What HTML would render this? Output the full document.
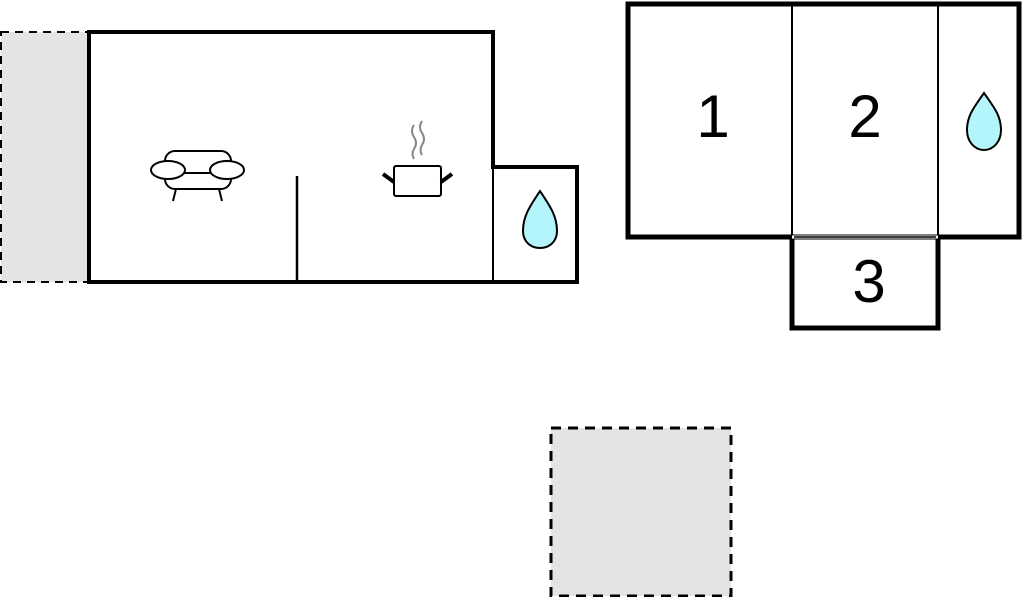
<!DOCTYPE html>
<html><head><style>html,body{margin:0;padding:0;background:#fff;width:1024px;height:597px;overflow:hidden}</style></head>
<body>
<svg width="1024" height="597" viewBox="0 0 1024 597" xmlns="http://www.w3.org/2000/svg">
<!-- dashed terraces -->
<rect x="1" y="32" width="88" height="250" fill="#e4e4e4" stroke="#000" stroke-width="2" stroke-dasharray="8,6"/>
<rect x="551" y="428" width="180" height="168" fill="#e4e4e4" stroke="#000" stroke-width="3" stroke-dasharray="10,7"/>
<!-- left building -->
<path d="M89 32 H493 V167 H577 V282 H89 Z" fill="none" stroke="#000" stroke-width="4"/>
<line x1="493" y1="167" x2="493" y2="282" stroke="#000" stroke-width="2"/>
<line x1="297" y1="176" x2="297" y2="282" stroke="#000" stroke-width="2.5"/>
<!-- sofa -->
<g fill="#fff" stroke="#000" stroke-width="2">
<rect x="165" y="151" width="66" height="38" rx="10"/>
<line x1="172" y1="173" x2="224" y2="173"/>
<ellipse cx="168" cy="170" rx="17" ry="9"/>
<ellipse cx="227" cy="170" rx="17" ry="9"/>
<line x1="176" y1="189" x2="173" y2="201"/>
<line x1="219" y1="189" x2="222" y2="201"/>
</g>
<!-- pot -->
<g stroke="#000">
<rect x="394" y="166" width="47" height="30" rx="2" fill="#fff" stroke-width="2"/>
<line x1="383" y1="174" x2="394" y2="182" stroke-width="4"/>
<line x1="452" y1="174" x2="441" y2="182" stroke-width="4"/>
<path d="M414 125 q-4 6 0 12 q4 6 0 12 q-3 5 0 10" fill="none" stroke="#888" stroke-width="2"/>
<path d="M422 121 q-4 6 0 12 q4 6 0 12 q-3 5 0 10" fill="none" stroke="#888" stroke-width="2"/>
</g>
<!-- drops -->
<path d="M540 191 C530 206 523 216 523 231 C523 242 531 248 540 248 C549 248 557 242 557 231 C557 216 550 206 540 191 Z" fill="#b3f5fb" stroke="#000" stroke-width="2"/>
<path d="M984 93 C975 106 967 115 967 130 C967 142 975 150 984 150 C993 150 1001 142 1001 130 C1001 115 993 106 984 93 Z" fill="#b3f5fb" stroke="#000" stroke-width="2"/>
<!-- right building -->
<rect x="628" y="4" width="391" height="233" fill="none" stroke="#000" stroke-width="5"/>
<line x1="792" y1="4" x2="792" y2="237" stroke="#000" stroke-width="2"/>
<line x1="938" y1="4" x2="938" y2="237" stroke="#000" stroke-width="2"/>
<path d="M792 237 V328 H938 V237" fill="none" stroke="#000" stroke-width="5"/>
<line x1="792" y1="237" x2="938" y2="237" stroke="#fff" stroke-width="3"/>
<line x1="794" y1="237" x2="936" y2="237" stroke="#000" stroke-width="1.5"/>
<g font-family="Liberation Sans, sans-serif" font-size="60" fill="#000" text-anchor="middle">
<text x="713" y="137">1</text>
<text x="865" y="137">2</text>
<text x="869" y="302">3</text>
</g>
</svg>
</body></html>
